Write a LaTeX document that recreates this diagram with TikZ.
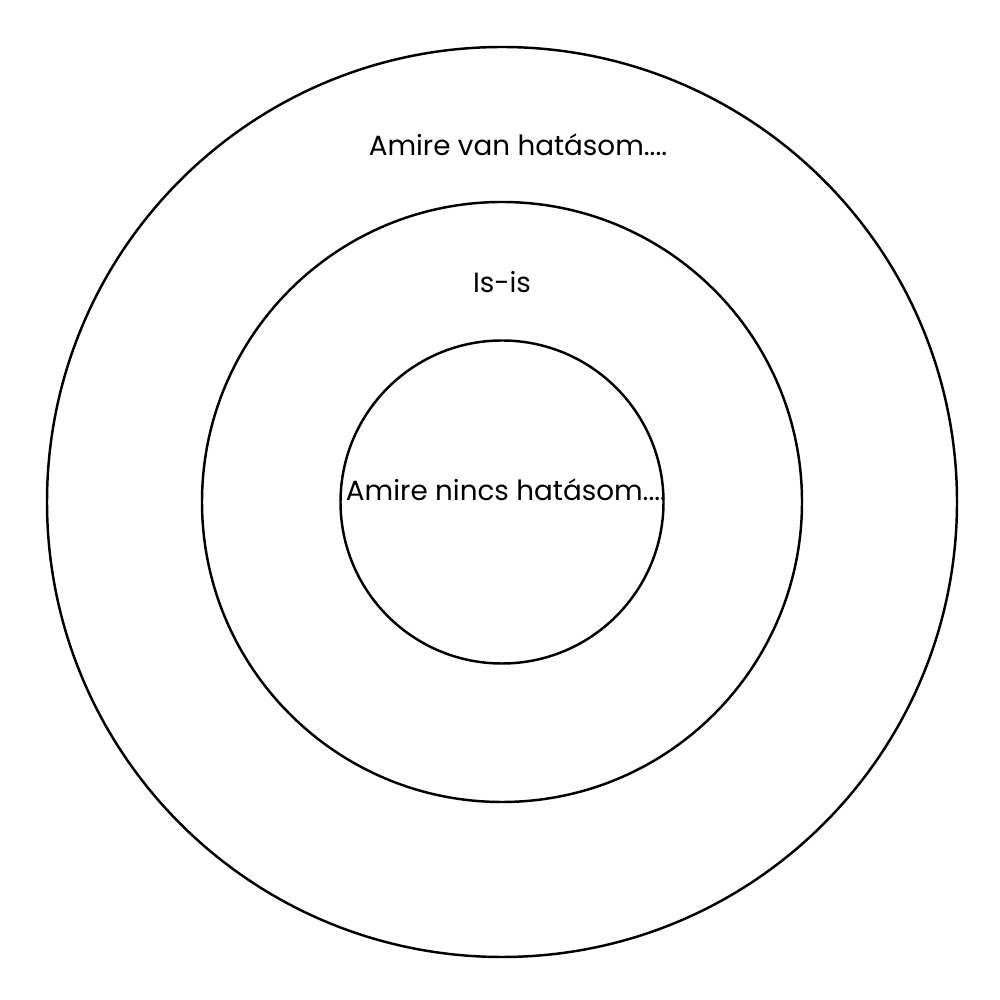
\documentclass[tikz,border=0pt]{standalone}
\usepackage{fontspec}
\setmainfont{Poppins}
\newcommand{\px}{0.01cm}

\begin{document}
\begin{tikzpicture}[ring/.style={draw, circle, line width=0.7pt, inner sep=0pt},
    lbl/.style={font=\fontsize{7.9}{9.5}\selectfont, inner sep=0pt}]
    \useasboundingbox (0,0) rectangle (1000*\px,1000*\px);
    % rings
    \node[ring, minimum size=910*\px] (outer) at (502*\px,498*\px) {};
    \node[ring, minimum size=600*\px] (middle) at (502*\px,498*\px) {};
    \node[ring, minimum size=323*\px] (inner) at (502*\px,498*\px) {};

    % labels
    \node[lbl] (outer-text) at (518*\px,855*\px) {Amire van hatásom....};
    \node[lbl] (middle-text) at (502*\px,718*\px) {Is-is};
    \node[lbl] (inner-text) at (506*\px,510*\px) {Amire nincs hatásom....};
\end{tikzpicture}
\end{document}
